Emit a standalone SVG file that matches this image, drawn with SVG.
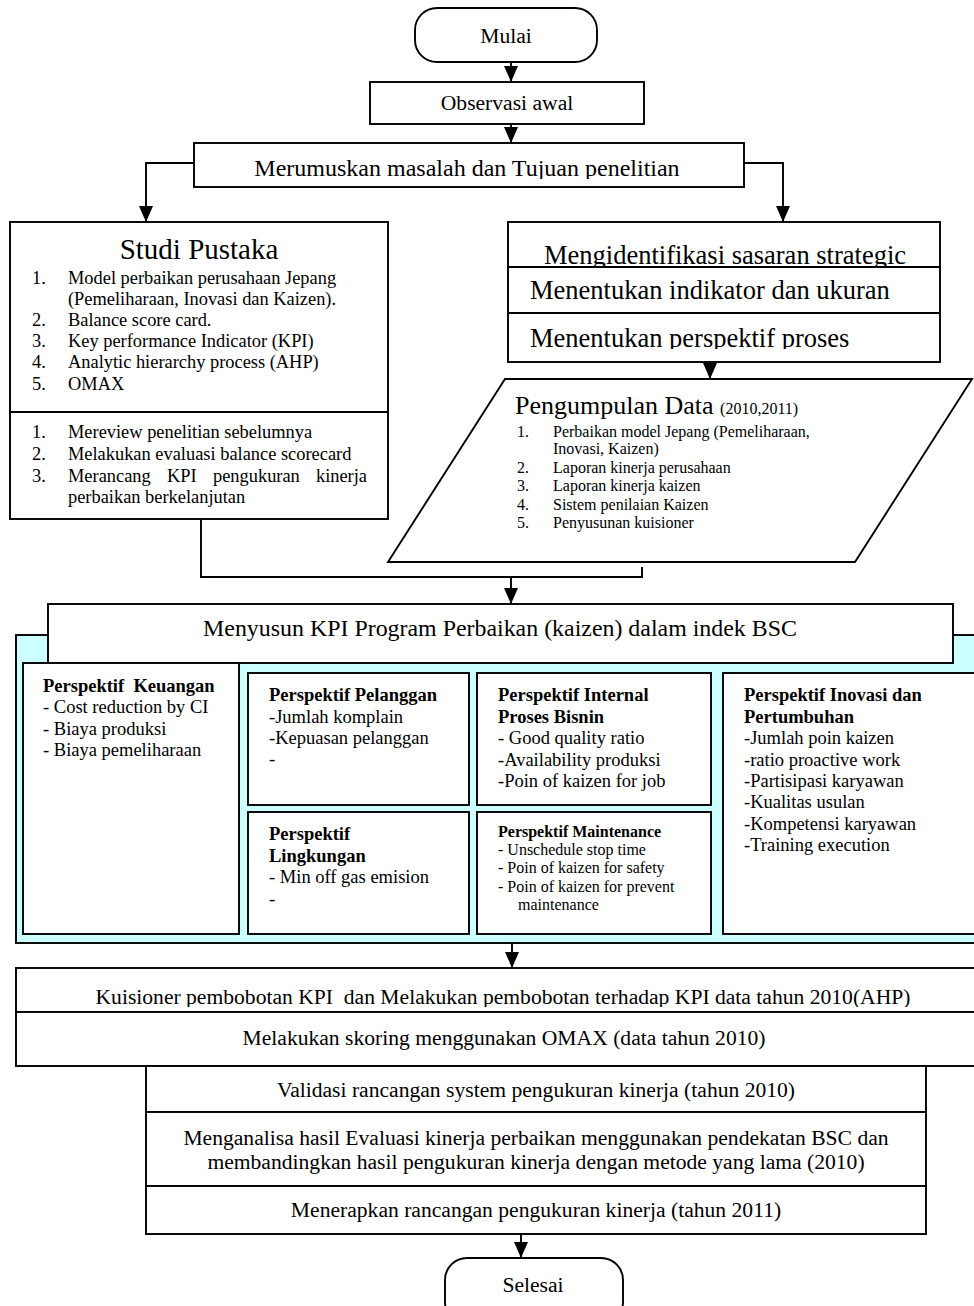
<svg xmlns="http://www.w3.org/2000/svg" width="974" height="1306" viewBox="0 0 974 1306">
<style>
text{font-family:"Liberation Serif","Times New Roman",serif;fill:#000}
.box{fill:#fff;stroke:#000;stroke-width:1.9}
.cy{fill:#ccffff;stroke:#000;stroke-width:1.9}
.ln{fill:none;stroke:#000;stroke-width:1.9}
.t21{font-size:21.6px}
.t24{font-size:24px}
.t26{font-size:26.5px}
.li{font-size:18.4px}
.pd{font-size:16px}
.pk{font-size:18.5px}
.pm{font-size:16px}
.b{font-weight:bold}
.c{text-anchor:middle}
</style>
<defs>
<marker id="ah" markerUnits="userSpaceOnUse" markerWidth="16" markerHeight="14" viewBox="0 0 16 14" refX="16" refY="7" orient="auto">
<path d="M0,0 L16,7 L0,14 z" fill="#000"/>
</marker>
<clipPath id="cMer"><rect x="194" y="143" width="550" height="36"/></clipPath>
<clipPath id="cR1"><rect x="508" y="222" width="432" height="44"/></clipPath>
<clipPath id="cR3"><rect x="508" y="313" width="432" height="36"/></clipPath>
<clipPath id="cK"><rect x="16" y="968" width="958" height="39"/></clipPath>
</defs>

<g id="connectors">
<line class="ln" x1="511" y1="62" x2="511" y2="82" marker-end="url(#ah)"/>
<line class="ln" x1="511" y1="124" x2="511" y2="143" marker-end="url(#ah)"/>
<polyline class="ln" points="194,163 146,163 146,222" marker-end="url(#ah)"/>
<polyline class="ln" points="744,163 783,163 783,222" marker-end="url(#ah)"/>
<line class="ln" x1="710" y1="362" x2="710" y2="379" marker-end="url(#ah)"/>
<polyline class="ln" points="201,519 201,577 642,577 642,567"/>
<line class="ln" x1="511" y1="577" x2="511" y2="604" marker-end="url(#ah)"/>
<line class="ln" x1="512" y1="943" x2="512" y2="968" marker-end="url(#ah)"/>
<line class="ln" x1="521" y1="1234" x2="521" y2="1258" marker-end="url(#ah)"/>
</g>

<g id="mulai">
<rect class="box" x="415" y="8" width="182" height="54" rx="22"/>
<text class="t21 c" x="506" y="43">Mulai</text>
</g>

<g id="observasi">
<rect class="box" x="370" y="82" width="274" height="42"/>
<text class="t21 c" x="507" y="110">Observasi awal</text>
</g>

<g id="merumuskan">
<rect class="box" x="194" y="143" width="550" height="44"/>
<text class="t24 c" x="467" y="176" clip-path="url(#cMer)">Merumuskan masalah dan Tujuan penelitian</text>
</g>

<g id="studi-pustaka">
<rect class="box" x="10" y="222" width="378" height="297"/>
<line class="ln" x1="10" y1="412" x2="388" y2="412"/>
<text class="c" style="font-size:29px" x="199" y="259">Studi Pustaka</text>
<text class="li" x="32" y="284">1.</text><text class="li" x="68" y="284">Model perbaikan perusahaan Jepang</text>
<text class="li" x="68" y="305">(Pemeliharaan, Inovasi dan Kaizen).</text>
<text class="li" x="32" y="326">2.</text><text class="li" x="68" y="326">Balance score card.</text>
<text class="li" x="32" y="347">3.</text><text class="li" x="68" y="347">Key performance Indicator (KPI)</text>
<text class="li" x="32" y="368">4.</text><text class="li" x="68" y="368">Analytic hierarchy process (AHP)</text>
<text class="li" x="32" y="390">5.</text><text class="li" x="68" y="390">OMAX</text>
<text class="li" x="32" y="438">1.</text><text class="li" x="68" y="438">Mereview penelitian sebelumnya</text>
<text class="li" x="32" y="460">2.</text><text class="li" x="68" y="460">Melakukan evaluasi balance scorecard</text>
<text class="li" x="32" y="482">3.</text>
<text class="li" x="68" y="482">Merancang</text>
<text class="li" x="167" y="482">KPI</text>
<text class="li" x="213" y="482">pengukuran</text>
<text class="li" x="367" y="482" text-anchor="end">kinerja</text>
<text class="li" x="68" y="503">perbaikan berkelanjutan</text>
</g>

<g id="strategi">
<rect class="box" x="508" y="222" width="432" height="140"/>
<line class="ln" x1="508" y1="267" x2="940" y2="267"/>
<line class="ln" x1="508" y1="313" x2="940" y2="313"/>
<text class="t26 c" x="725" y="264" clip-path="url(#cR1)">Mengidentifikasi sasaran strategic</text>
<text class="t26" x="530" y="299">Menentukan indikator dan ukuran</text>
<text class="t26" x="530" y="347" clip-path="url(#cR3)">Menentukan perspektif proses</text>
</g>

<g id="pengumpulan-data">
<polygon class="box" points="505,379 972,379 855,562 388,562"/>
<text x="515" y="414" style="font-size:26px">Pengumpulan Data <tspan style="font-size:16px">(2010,2011)</tspan></text>
<text class="pd" x="517" y="437">1.</text><text class="pd" x="553" y="437">Perbaikan model Jepang (Pemeliharaan,</text>
<text class="pd" x="553" y="454">Inovasi, Kaizen)</text>
<text class="pd" x="517" y="473">2.</text><text class="pd" x="553" y="473">Laporan kinerja perusahaan</text>
<text class="pd" x="517" y="491">3.</text><text class="pd" x="553" y="491">Laporan kinerja kaizen</text>
<text class="pd" x="517" y="510">4.</text><text class="pd" x="553" y="510">Sistem penilaian Kaizen</text>
<text class="pd" x="517" y="528">5.</text><text class="pd" x="553" y="528">Penyusunan kuisioner</text>
</g>

<g id="kpi-bsc">
<rect class="cy" x="16" y="635" width="980" height="308"/>
<rect class="box" x="48" y="604" width="905" height="59"/>
<text class="c" style="font-size:23.9px" x="500" y="636">Menyusun KPI Program Perbaikan (kaizen) dalam indek BSC</text>
</g>

<g id="keuangan">
<rect class="box" x="23" y="663" width="216" height="271"/>
<text class="pk b" x="43" y="692" xml:space="preserve">Perspektif  Keuangan</text>
<text class="pk" x="43" y="713">- Cost reduction by CI</text>
<text class="pk" x="43" y="735">- Biaya produksi</text>
<text class="pk" x="43" y="756">- Biaya pemeliharaan</text>
</g>

<g id="pelanggan">
<rect class="box" x="248" y="673" width="221" height="132"/>
<text class="pk b" x="269" y="701">Perspektif Pelanggan</text>
<text class="pk" x="269" y="723">-Jumlah komplain</text>
<text class="pk" x="269" y="744">-Kepuasan pelanggan</text>
<text class="pk" x="269" y="765">-</text>
</g>

<g id="lingkungan">
<rect class="box" x="248" y="812" width="221" height="122"/>
<text class="pk b" x="269" y="840">Perspektif</text>
<text class="pk b" x="269" y="862">Lingkungan</text>
<text class="pk" x="269" y="883">- Min off gas emision</text>
<text class="pk" x="269" y="905">-</text>
</g>

<g id="internal">
<rect class="box" x="477" y="673" width="234" height="132"/>
<text class="pk b" x="498" y="701">Perspektif Internal</text>
<text class="pk b" x="498" y="723">Proses Bisnin</text>
<text class="pk" x="498" y="744">- Good quality ratio</text>
<text class="pk" x="498" y="766">-Availability produksi</text>
<text class="pk" x="498" y="787">-Poin of kaizen for job</text>
</g>

<g id="maintenance">
<rect class="box" x="477" y="812" width="234" height="122"/>
<text class="pm b" x="498" y="837">Perspektif Maintenance</text>
<text class="pm" x="498" y="855">- Unschedule stop time</text>
<text class="pm" x="498" y="873">- Poin of kaizen for safety</text>
<text class="pm" x="498" y="892">- Poin of kaizen for prevent</text>
<text class="pm" x="518" y="910">maintenance</text>
</g>

<g id="inovasi">
<rect class="box" x="723" y="673" width="270" height="261"/>
<text class="pk b" x="744" y="701">Perspektif Inovasi dan</text>
<text class="pk b" x="744" y="723">Pertumbuhan</text>
<text class="pk" x="744" y="744">-Jumlah poin kaizen</text>
<text class="pk" x="744" y="766">-ratio proactive work</text>
<text class="pk" x="744" y="787">-Partisipasi karyawan</text>
<text class="pk" x="744" y="808">-Kualitas usulan</text>
<text class="pk" x="744" y="830">-Kompetensi karyawan</text>
<text class="pk" x="744" y="851">-Training execution</text>
</g>

<g id="kuisioner">
<rect class="box" x="16" y="968" width="980" height="44"/>
<text class="t21 c" x="503" y="1004" clip-path="url(#cK)" xml:space="preserve">Kuisioner pembobotan KPI  dan Melakukan pembobotan terhadap KPI data tahun 2010(AHP)</text>
</g>

<g id="skoring">
<rect class="box" x="16" y="1012" width="980" height="54"/>
<text class="t21 c" x="504" y="1045">Melakukan skoring menggunakan OMAX (data tahun 2010)</text>
</g>

<g id="validasi">
<rect class="box" x="146" y="1066" width="780" height="46"/>
<text class="t21 c" x="536" y="1097">Validasi rancangan system pengukuran kinerja (tahun 2010)</text>
</g>

<g id="menganalisa">
<rect class="box" x="146" y="1112" width="780" height="74"/>
<text class="t21 c" x="536" y="1145">Menganalisa hasil Evaluasi kinerja perbaikan menggunakan pendekatan BSC dan</text>
<text class="t21 c" x="536" y="1169">membandingkan hasil pengukuran kinerja dengan metode yang lama (2010)</text>
</g>

<g id="menerapkan">
<rect class="box" x="146" y="1186" width="780" height="48"/>
<text class="t21 c" x="536" y="1217">Menerapkan rancangan pengukuran kinerja (tahun 2011)</text>
</g>

<g id="selesai">
<rect class="box" x="445" y="1258" width="178" height="66" rx="22"/>
<text class="t21 c" x="533" y="1292">Selesai</text>
</g>
</svg>
